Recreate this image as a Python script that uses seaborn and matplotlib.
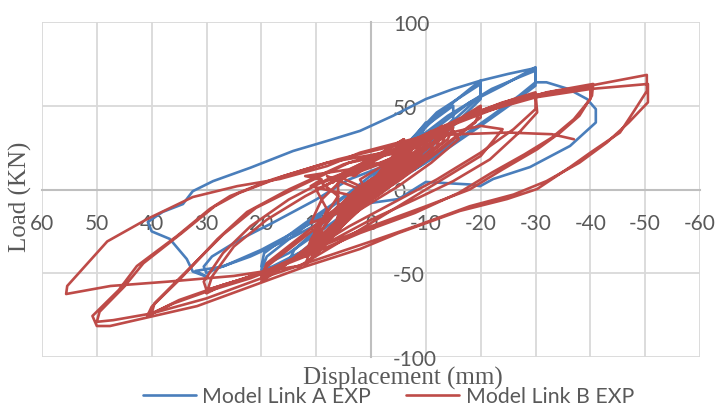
import matplotlib
matplotlib.use("Agg")
import matplotlib.pyplot as plt
import seaborn as sns

# Model Link A EXP (blue) - displacement (mm) / load (kN)
disp_a = [0,
          -1.5, -3, -2.2, -0.5, 1.5, 3, 2.2, 0.5,
          -2, -5, -4.2, -1.5, 2, 5, 4.2, 1.5,
          -3, -6, -8, -7.2, -3, 3, 6, 8, 7.2, 3,
          -4, -8, -10, -9.2, -5, 0, 5, 10, 9.2, 5, 1,
          -5, -10, -15, -15, -10, -4, 3, 10, 15, 14, 8, 2,
          -5, -12, -18, -20, -20, -15, -8, -3, 5, 12, 18, 20, 19, 12, 5, 0,
          -5, -12, -20, -20, -14, -7, 0, 8, 15, 20, 19.5, 12, 4,
          -6, -14, -22, -27, -30, -30, -26, -20, -12, -5, 0, 6, 14, 22, 28, 30, 30.5, 29, 24, 18, 10, 4,
          -4, -10, -18, -24, -30, -30, -27, -22, -15, -8, -2, 5, 12, 20, 27, 32, 30, 32.5,
          33.6, 36.7, 40, 40.7, 38, 34.3, 32.5, 28.8, 22, 14.2, 8, 2, -4, -10, -15, -20, -25, -30,
          -30, -32, -36, -39.4, -41, -41, -36.3, -29, -22.3, -19.9, -18, -10, -5, 0]
load_a = [0,
          6, 12, 6, 0, -6, -12, -6, 0,
          8, 20, 13, 2, -8, -20, -13, -2,
          12, 24, 32, 25, 8, -10, -22, -30, -24, -8,
          14, 32, 40, 32, 15, -2, -20, -36, -30, -14, 0,
          18, 38, 50, 42, 25, 5, -10, -30, -43, -36, -18, -2,
          20, 44, 60, 65, 54, 38, 16, 2, -18, -36, -46, -48, -40, -22, -5, 6,
          22, 46, 63, 56, 38, 14, -3, -22, -38, -46, -38, -20, -2,
          24, 44, 60, 67, 71, 62, 52, 38, 20, 6, -2, -14, -28, -40, -47, -50, -46, -40, -30, -20, -6, 6,
          16, 32, 52, 62, 73, 64, 56, 44, 28, 12, 2, -10, -22, -36, -46, -48.6, -52, -49,
          -41.5, -29.5, -25, -19.4, -13.4, -8.7, -1, 5, 13, 23, 29, 35, 44, 54, 60, 65, 69, 72.5,
          64, 64, 60, 54, 48, 40, 26, 13.4, 6.3, 2, 3, 4.5, -5.7, -8]

# Model Link B EXP (red)
disp_b = [0,
          -2, -4, -3, 0, 2, 4, 3, 0,
          -3, -6, -5, -1, 3, 6, 5, 1,
          -4, -8, -7, -2, 4, 8, 7, 2,
          -5, -10, -9, -3, 4, 10, 9, 3,
          -2, -6, -11, -10, -4, 2, 6, 11, 10, 4,
          -3, -8, -13, -12, -5, 2, 7, 12, 11, 5,
          0, -4, -8, -7, -1, 3, 7, 6, 1,
          2, -3, -8, -12, -11, -6, 0, 5, 10, 9, 5, 2,
          6, 0, -5, -10, -14, -13, -8, -2, 4, 8, 12, 11, 8, 6,
          9, 4, -2, -7, -12, -15, -14, -9, -4, 1, 6, 11, 10, 8,
          10, 6, 1, -4, -9, -13, -12, -7, -1, 5, 9, 12, 10, 7, 4,
          0, -5, -10, -15, -16, -11, -5, 2, 8, 11, 10, 6, 2,
          8, 7, 5, 3, 0, -3, -6, -10, -9, -4, 3, 7, 6, 3,
          11, 9, 12, 8, 4, 0, -6, -11, -10, -5, 0, 6, 10, 9, 4, 0,
          4, 2, -2, -6, -9, -8, -3, 2, 6, 9, 8, 5, 3,
          7, 3, 0, -4, -8, -7, -2, 3, 7, 10, 9, 6,
          6, -2, -6, -4, 4, 9, 11, 6, 0,
          -5, -12, -18, -20, -19, -12, -5, 3, 10, 17, 20, 19, 12, 5,
          -4, -10, -16, -20, -20, -14, -6, 2, 10, 16, 20, 19, 12, 4,
          -5, -12, -20, -26, -30, -30.3, -27, -21.7, -15, -8, 0, 8, 16, 24, 30, 30.5, 27, 22, 15, 8,
          0, -8, -16, -24, -30, -30, -26, -20, -12, -4, 4, 12, 20, 27, 30, 29, 25, 19, 12, 5,
          -2, -8, -16, -24, -32, -40.5, -40.3, -38, -34.5, -30.3, -24, -18, -10, 0, 10, 20, 28, 35, 40.8,
          40, 34.8, 28, 22.6, 15, 5,
          -4, -12, -20, -28, -34, -40, -40, -37, -33, -28, -22, -16, -8, 2, 12, 22, 30, 36, 40,
          39.5, 34, 27, 21, 13, 4,
          -5, -16, -28, -40, -50.3, -50.3, -48, -45.4, -40, -36.3, -30.3, -24.8, -16.2, -5, 2, 12, 19.7,
          31.7, 42, 47.6, 50, 50.8, 46, 42.7, 35.4, 29.4, 25.7, 18, 8,
          -6, -18, -30, -40, -50.5, -50.5, -47, -43, -38, -32, -26, -18, -8, 0, 10, 20, 30, 40, 47, 50,
          49.5, 45, 41.5, 34.5, 28.5, 24,
          16, 6, -4, -12, -20, -24, -20, -10, 0, 5, 13, 25, 37, 47.5, 55.6,
          55.4, 48.1, 40.8, 32.5, 24.4, 16.6, 8, 2, -5, -10, -16, -25, -33, -37]
load_b = [0,
          8, 15, 9, -2, -9, -16, -10, 2,
          13, 22, 15, 2, -10, -22, -15, -2,
          16, 28, 20, 4, -14, -30, -22, -5,
          20, 33, 26, 6, -16, -38, -30, -10,
          12, 22, 35, 27, 8, -8, -25, -42, -33, -14,
          14, 27, 38, 30, 10, -10, -28, -45, -36, -16,
          4, 20, 30, 22, 4, -12, -26, -18, 0,
          6, 16, 26, 33, 24, 10, -6, -18, -32, -24, -8, 2,
          8, 14, 20, 30, 36, 28, 14, -2, -14, -26, -40, -30, -14, -4,
          4, 10, 16, 24, 32, 37, 30, 18, 6, -6, -20, -34, -26, -12,
          0, 6, 12, 18, 27, 34, 26, 12, -4, -16, -28, -38, -30, -14, -4,
          6, 14, 24, 35, 30, 16, 2, -12, -26, -36, -22, -10, 0,
          8, 4, 10, 8, 16, 14, 22, 28, 20, 4, -10, -24, -16, -4,
          2, 6, 8, 10, 12, 18, 24, 30, 24, 8, -4, -18, -30, -20, -6, 0,
          -4, 2, 8, 16, 24, 18, 4, -12, -24, -34, -28, -16, -8,
          -14, -2, 6, 12, 22, 16, 2, -12, -24, -36, -30, -20,
          8, 22, 30, 26, 10, -6, -20, -14, 0,
          18, 35, 45, 48, 40, 22, 5, -12, -32, -48, -52, -44, -26, -8,
          16, 30, 42, 50, 43, 28, 8, -10, -30, -46, -55, -46, -28, -8,
          20, 35, 47, 54, 58, 46, 34, 18, 5, -6, -18, -32, -45, -54, -60, -55, -38, -22, -6, 6,
          16, 30, 42, 52, 57, 48, 36, 22, 6, -8, -22, -38, -50, -57, -62, -52, -34, -18, -4, 8,
          20, 28, 40, 50, 58, 63, 56, 44, 34, 24, 12, 0, -10, -22, -35, -50, -58, -66, -75.5,
          -70, -53.4, -29.6, -13.4, 0, 15,
          24, 36, 46, 55, 59, 61, 54, 42, 31, 21, 10, -2, -14, -26, -40, -53, -61, -68, -74,
          -68, -50, -27, -11, 2, 16,
          22, 42, 54, 62, 68.4, 58.8, 47, 34, 22, 13.4, 0.3, -5.7, -12.8, -26, -35.5, -46, -55.2,
          -69.6, -77.3, -81.5, -81.5, -75.5, -60, -45.7, -27.8, -11.6, -3.9, 6, 16,
          24, 44, 55, 60, 63, 52, 40, 28, 16, 5, -3, -10, -22, -31, -42, -53, -65, -74, -78, -79,
          -73, -58, -44, -26, -10, -2,
          8, 18, 26, 32, 38, 36, 20, 0, -20, -30, -45.6, -51.6, -55, -57.6, -62.4,
          -57.6, -31, -17.6, -4.5, 2, 6.3, 14, 22, 28, 32, 33, 34, 33, 30]

series_names = ["Model Link A EXP", "Model Link B EXP"]
series_colors = ["#4A7EBB", "#BE4B48"]
x_ticks = [60, 50, 40, 30, 20, 10, 0, -10, -20, -30, -40, -50, -60]
y_ticks = [-100, -50, 0, 50, 100]

sns.set_style("white")
plt.rcParams["font.family"] = ["Lato", "DejaVu Sans"]
plt.rcParams["axes.unicode_minus"] = False

fig = plt.figure(figsize=(7.17, 4.06), dpi=100)
ax = fig.add_axes([42 / 717, 48 / 406, 658 / 717, 335 / 406])

sns.lineplot(x=disp_a, y=load_a, sort=False, estimator=None, color=series_colors[0],
             lw=1.9, label=series_names[0], ax=ax)
sns.lineplot(x=disp_b, y=load_b, sort=False, estimator=None, color=series_colors[1],
             lw=1.9, label=series_names[1], ax=ax)

ax.set_xlim(60, -60)
ax.set_ylim(-100, 100)
ax.set_xticks(x_ticks)
ax.set_yticks(y_ticks)
ax.set_xticklabels([str(t) for t in x_ticks])
ax.set_yticklabels([str(t) for t in y_ticks])
ax.grid(True, color="#d9d9d9", lw=1.3)
ax.set_axisbelow(True)

# axes cross at the origin, like the spreadsheet chart
for s in ["top", "left"]:
    ax.spines[s].set_visible(False)
ax.spines["bottom"].set_position(("data", 0))
ax.spines["right"].set_position(("data", 0))
for s in ["bottom", "right"]:
    ax.spines[s].set_color("#bfbfbf")
    ax.spines[s].set_linewidth(1.5)
    ax.spines[s].set_zorder(1)
ax.yaxis.tick_right()
ax.tick_params(axis="both", length=0, labelsize=15, labelcolor="#595959")
ax.tick_params(axis="x", pad=17)
ax.tick_params(axis="y", pad=16)
for lab in ax.get_yticklabels():
    lab.set_horizontalalignment("left")

ax.set_xlabel("Displacement (mm)", fontsize=18, family=["Liberation Serif"],
              color="#595959", va="center")
ax.xaxis.set_label_coords(0.549, -0.06)
ax.set_ylabel("Load (KN)", fontsize=18, family=["Liberation Serif"],
              color="#595959", va="center")
ax.yaxis.set_label_coords(-0.032, 0.48)

ax.legend(loc="center", bbox_to_anchor=(0.5265, -0.1164), ncol=2, frameon=False,
          fontsize=15.3, handlelength=2.5, columnspacing=1.65, handletextpad=0.3,
          labelcolor="#595959")

fig.savefig("out.png", dpi=100)
